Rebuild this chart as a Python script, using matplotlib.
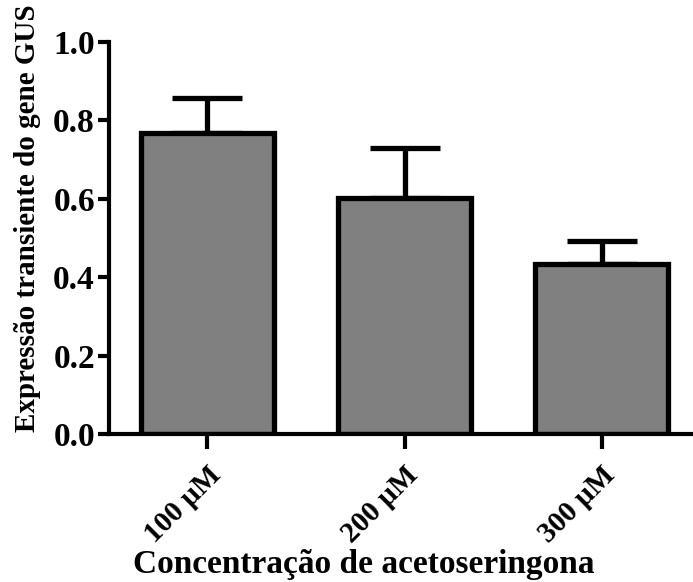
import numpy as np
import matplotlib
matplotlib.use('Agg')
import matplotlib.pyplot as plt

plt.rcParams['font.family'] = ['Liberation Serif', 'DejaVu Serif']
plt.rcParams['font.weight'] = 'bold'

# dados do ensaio
concentracoes = ['100 µM', '200 µM', '300 µM']
medias = [0.768, 0.602, 0.434]
erros = [0.089, 0.128, 0.058]


def drawer():
    fig = plt.figure(figsize=(6.93, 5.82), dpi=100)
    ax = fig.add_axes([0.157, 0.254, 0.845, 0.674])

    x = np.arange(len(concentracoes))
    ax.bar(x, medias, width=0.675, color='#808080', edgecolor='black',
           linewidth=3.8, zorder=2)
    # só a barra de erro superior
    ax.errorbar(x, medias, yerr=[np.zeros(len(erros)), erros], fmt='none',
                ecolor='black', elinewidth=3.8, capsize=25, capthick=3.8,
                zorder=1)

    ax.set_xlim(-0.5, 2.47)
    ax.set_ylim(0, 1.0)
    ax.set_yticks([0.0, 0.2, 0.4, 0.6, 0.8, 1.0])
    ax.set_yticklabels(['%.1f' % v for v in ax.get_yticks()])
    ax.set_xticks(x)
    ax.set_xticklabels(concentracoes, rotation=45, ha='right',
                       rotation_mode='anchor')

    for s in ['top', 'right']:
        ax.spines[s].set_visible(False)
    for s in ['left', 'bottom']:
        ax.spines[s].set_linewidth(3)
    ax.spines['left'].set_bounds(0, 1.0)
    ax.tick_params(axis='y', length=8, width=3, labelsize=24, pad=2)
    ax.tick_params(axis='x', length=11, width=3, labelsize=21, pad=9)

    ax.set_ylabel('Expressão transiente do gene GUS', fontsize=21,
                  fontweight='bold')
    ax.yaxis.set_label_coords(-0.115, 0.55)
    ax.set_xlabel('Concentração de acetoseringona', fontsize=24,
                  fontweight='bold')
    ax.xaxis.set_label_coords(0.435, -0.293)

    fig.savefig('out.png', dpi=100)


if __name__ == "__main__":
    drawer()
